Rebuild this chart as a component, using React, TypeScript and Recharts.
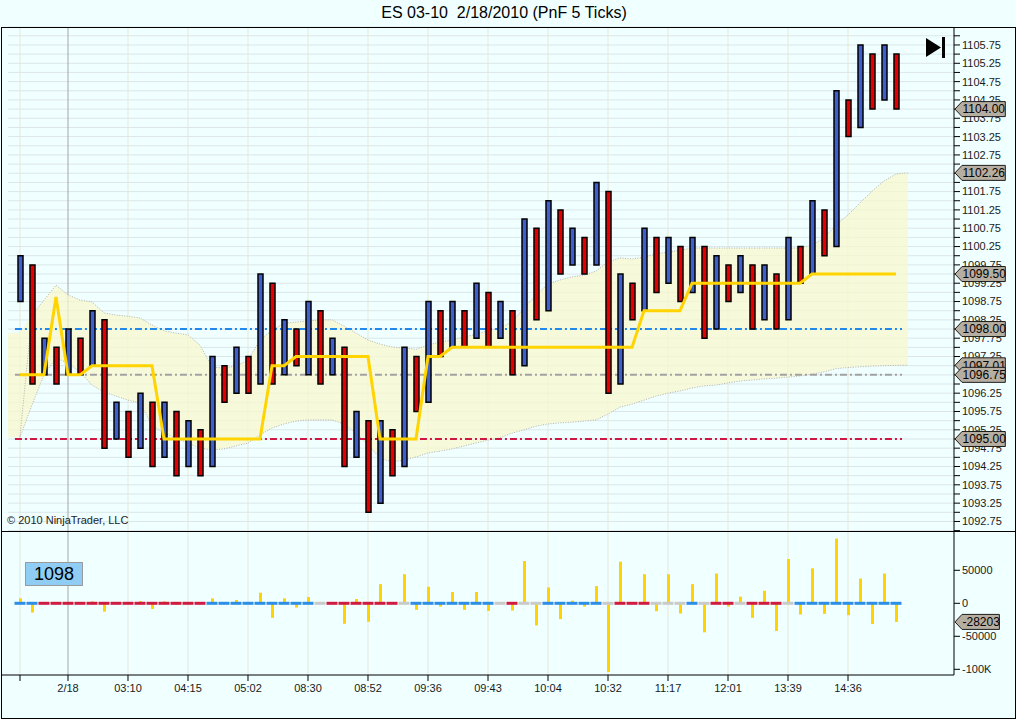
import React from "react"
import {
  ComposedChart,
  Bar,
  Line,
  Area,
  Scatter,
  XAxis,
  YAxis,
  CartesianGrid,
  ReferenceLine,
  Cell,
} from "recharts"

const FONT = '"Liberation Sans", Arial, sans-serif'

// PnF columns, left to right: top and bottom of each column
const colHigh = [
  1100.0, 1099.75, 1097.75, 1097.5, 1098.0, 1097.75, 1098.5, 1098.25, 1096.0, 1095.75,
  1096.25, 1096.0, 1096.0, 1095.75, 1095.5, 1095.25, 1097.25, 1097.0, 1097.5, 1097.25,
  1099.5, 1099.25, 1098.25, 1098.0, 1098.75, 1098.5, 1097.75, 1097.5, 1095.75, 1095.5,
  1095.5, 1095.25, 1097.5, 1097.25, 1098.75, 1098.5, 1098.75, 1098.5, 1099.25, 1099.0,
  1098.75, 1098.5, 1101.0, 1100.75, 1101.5, 1101.25, 1100.75, 1100.5, 1102.0, 1101.75,
  1099.5, 1099.25, 1100.75, 1100.5, 1100.5, 1100.25, 1100.5, 1100.25, 1100.0, 1099.75,
  1100.0, 1099.75, 1099.75, 1099.5, 1100.5, 1100.25, 1101.5, 1101.25, 1104.5, 1104.25,
  1105.75, 1105.5, 1105.75, 1105.5,
]
const colLow = [
  1098.75, 1096.5, 1096.75, 1096.5, 1096.75, 1096.75, 1097.0, 1094.75, 1095.0, 1094.5,
  1094.75, 1094.25, 1094.5, 1094.0, 1094.25, 1094.0, 1094.25, 1096.0, 1096.25, 1096.25,
  1096.5, 1096.5, 1096.75, 1097.0, 1096.75, 1096.5, 1096.75, 1094.25, 1094.5, 1093.0,
  1093.25, 1094.0, 1094.25, 1095.75, 1096.0, 1097.25, 1097.5, 1097.5, 1097.75, 1097.5,
  1097.75, 1096.75, 1097.0, 1098.25, 1098.5, 1099.5, 1099.75, 1099.5, 1099.75, 1096.25,
  1096.5, 1098.25, 1098.5, 1099.0, 1099.25, 1098.75, 1099.0, 1097.75, 1098.0, 1098.75,
  1099.0, 1098.0, 1098.25, 1098.0, 1098.25, 1099.25, 1099.5, 1100.0, 1100.25, 1103.25,
  1103.5, 1104.0, 1104.25, 1104.0,
]
// columns alternate, the first one is an up column; the last close is the low of the last (down) column
const lastClose = colLow[colLow.length - 1]

// yellow step line
const trend = [
  1096.75, 1096.75, 1096.75, 1098.875, 1096.75, 1096.75, 1097.0, 1097.0, 1097.0, 1097.0,
  1097.0, 1097.0, 1095.0, 1095.0, 1095.0, 1095.0, 1095.0, 1095.0, 1095.0, 1095.0,
  1095.0, 1097.0, 1097.0, 1097.25, 1097.25, 1097.25, 1097.25, 1097.25, 1097.25, 1097.25,
  1095.0, 1095.0, 1095.0, 1095.0, 1097.25, 1097.25, 1097.5, 1097.5, 1097.5, 1097.5,
  1097.5, 1097.5, 1097.5, 1097.5, 1097.5, 1097.5, 1097.5, 1097.5, 1097.5, 1097.5,
  1097.5, 1097.5, 1098.5, 1098.5, 1098.5, 1098.5, 1099.25, 1099.25, 1099.25, 1099.25,
  1099.25, 1099.25, 1099.25, 1099.25, 1099.25, 1099.25, 1099.5, 1099.5, 1099.5, 1099.5,
  1099.5, 1099.5, 1099.5, 1099.5,
]

// envelope (one value more than the columns, it runs one slot past the last column)
const bandUpper = [
  1095.08, 1098.38, 1098.79, 1099.2, 1098.93, 1098.79, 1098.74, 1098.44, 1098.38, 1098.35,
  1098.3, 1098.11, 1097.95, 1097.89, 1097.84, 1097.56, 1096.96, 1096.94, 1096.99, 1097.15,
  1097.7, 1097.97, 1098.16, 1098.19, 1098.22, 1098.25, 1098.25, 1098.08, 1097.89, 1097.7,
  1097.59, 1097.51, 1097.48, 1097.45, 1097.56, 1097.65, 1097.7, 1097.78, 1097.86, 1097.95,
  1098.03, 1098.19, 1098.57, 1098.93, 1099.23, 1099.34, 1099.42, 1099.47, 1099.58, 1099.83,
  1099.94, 1099.91, 1099.96, 1100.05, 1100.1, 1100.15, 1100.21, 1100.21, 1100.21, 1100.21,
  1100.21, 1100.21, 1100.21, 1100.21, 1100.21, 1100.21, 1100.29, 1100.48, 1100.84, 1101.11,
  1101.44, 1101.76, 1102.04, 1102.23, 1102.26,
]
const bandLower = [
  1095.05, 1095.93, 1096.75, 1097.21, 1097.07, 1096.83, 1096.47, 1096.28, 1096.17, 1096.06,
  1095.98, 1095.38, 1095.16, 1095.03, 1094.89, 1094.75, 1094.7, 1094.73, 1094.81, 1094.89,
  1095.11, 1095.3, 1095.41, 1095.49, 1095.52, 1095.52, 1095.52, 1095.41, 1095.16, 1094.84,
  1094.48, 1094.37, 1094.43, 1094.51, 1094.62, 1094.67, 1094.73, 1094.81, 1094.89, 1094.97,
  1095.03, 1095.16, 1095.25, 1095.35, 1095.41, 1095.44, 1095.46, 1095.49, 1095.52, 1095.68,
  1095.87, 1095.95, 1096.06, 1096.17, 1096.25, 1096.31, 1096.39, 1096.45, 1096.47, 1096.53,
  1096.58, 1096.61, 1096.64, 1096.66, 1096.69, 1096.72, 1096.77, 1096.83, 1096.92, 1096.95,
  1096.97, 1096.99, 1097.0, 1097.01, 1097.01,
]
// the shaded area also starts one slot before the first column
const bandLead: [number, number] = [1095.05, 1097.9]

// horizontal levels
const levels = [
  { price: 1098.0, color: "#2189ec" },
  { price: 1096.75, color: "#a2a2a2" },
  { price: 1095.0, color: "#cf1744" },
]

// lower panel
const delta = [
  7500, -14000, 0, 0, 1000, 0, 3000, -12600, 0, 1000,
  3500, -8600, 3000, -2500, 0, 0, 7500, 0, 5000, 0,
  16000, -22000, 7500, -6500, 9500, 0, 0, -31000, 6500, -28000,
  29000, 0, 44000, -10000, 25000, -5000, 17000, -10000, 17000, -11600,
  2000, -11000, 64000, -33500, 24000, -24000, 4000, -5000, 26000, -104000,
  63000, 0, 44000, -12000, 44000, -15500, 29000, -44000, 45000, -5000,
  10000, -22000, 19000, -42000, 67000, -17000, 53000, -16000, 98000, -18000,
  37500, -31500, 45000, -28203,
]
// B = blue, R = red, G = gray segment on the zero line
const segState =
  "BB" + "RRRRRRRRRRRRRR" + "BBBBBBBBB" + "G" + "RRRRRR" + "G" + "BBBBBBB" + "G" + "R" + "GG" +
  "BBBBB" + "G" + "RRR" + "GGG" + "B" + "G" + "RR" + "G" + "RRR" + "G" + "BBBBBBBBB"

// time axis
const tickBars = [0, 4, 9, 14, 19, 24, 29, 34, 39, 44, 49, 54, 59, 64, 69]
const tickLabels = ["", "2/18", "03:10", "04:15", "05:02", "08:30", "08:52", "09:36", "09:43", "10:04", "10:32", "11:17", "12:01", "13:39", "14:36"]
const sessionBreak = 4

const flowTicks = [-100000, -50000, 0, 50000]

const segColors: Record<string, string> = { B: "#2d8ee8", R: "#d01b41", G: "#cacaca" }

const priceTicks: number[] = []
for (let p = 1092.5; p <= 1106.0; p += 0.25) priceTicks.push(p)

const N = colHigh.length

const priceRows: any[] = [{ i: -1, fill: bandLead }]
for (let k = 0; k <= N; k++) {
  priceRows.push({
    i: k,
    range: k < N ? [colLow[k], colHigh[k]] : undefined,
    up: k % 2 === 0,
    trend: k < N ? trend[k] : undefined,
    upper: bandUpper[k],
    lower: bandLower[k],
    fill: k === 0 ? bandLead : [bandLower[k], bandUpper[k]],
  })
}

const flowRows = delta.map((d, k) => ({ i: k, delta: d, zero: 0, seg: segState[k] }))

const tags = [
  lastClose,
  bandUpper[bandUpper.length - 1],
  trend[trend.length - 1],
  levels[0].price,
  bandLower[bandLower.length - 1],
  levels[1].price,
  levels[2].price,
]

function PriceTag(props: any) {
  const vb = props.viewBox
  if (!vb) return null
  const x = vb.x + vb.width
  const y = vb.y
  const text: string = props.text
  const w = 10 + text.length * 5.9
  return (
    <g>
      <path
        d={`M${x + 1},${y} L${x + 8},${y - 7.5} L${x + w},${y - 7.5} L${x + w},${y + 7.5} L${x + 8},${y + 7.5} Z`}
        fill="#b6aea1"
        stroke="#1c1c1c"
        strokeWidth={1}
      />
      <text x={x + 8.5} y={y + 4.2} fontSize={12} fontFamily={FONT} fill="#000">
        {text}
      </text>
    </g>
  )
}

function ZeroSegment(props: any) {
  const { cx, cy, payload } = props
  if (cx == null || cy == null) return null
  return <rect x={cx - 5.5} y={cy - 1.5} width={11} height={3} fill={segColors[payload.seg]} />
}

const axisTick = { fontSize: 11, fill: "#1a1a1a", fontFamily: FONT }

export default function App() {
  return (
    <div
      style={{
        position: "absolute",
        left: 0,
        top: 0,
        width: 1016,
        height: 719,
        background: "#f0ffff",
        fontFamily: FONT,
        overflow: "hidden",
      }}
    >
      <div
        style={{
          position: "absolute",
          left: 0,
          top: 4,
          width: 1008,
          textAlign: "center",
          fontSize: 16,
          lineHeight: "18px",
          whiteSpace: "pre",
          color: "#000",
        }}
      >
        {"ES 03-10  2/18/2010 (PnF 5 Ticks)"}
      </div>

      <div style={{ position: "absolute", left: 0, top: 0 }}>
        <ComposedChart width={1016} height={531} data={priceRows} margin={{ top: 27, right: 0, bottom: 0, left: 8 }}>
          <CartesianGrid vertical={false} stroke="#dce6e8" strokeDasharray="" />
          <XAxis dataKey="i" type="number" domain={[-1, 77.8333]} allowDataOverflow hide />
          <YAxis
            orientation="right"
            width={62}
            domain={[1092.49, 1106.24]}
            allowDataOverflow
            ticks={priceTicks}
            interval={0}
            tickFormatter={(v: number) => (Math.round(v * 4) % 2 === 1 ? v.toFixed(2) : "")}
            tickSize={6}
            tickMargin={2}
            tick={axisTick}
            stroke="#000"
          />
          {tickBars.map((b) => (
            <ReferenceLine
              key={"v" + b}
              x={b}
              stroke={b === sessionBreak ? "#a6a6a6" : "#e5e7d8"}
              strokeWidth={1}
              zIndex={-50}
            />
          ))}
          <Area
            dataKey="fill"
            type="linear"
            stroke="none"
            fill="#f8f8cc"
            fillOpacity={0.72}
            isAnimationActive={false}
            zIndex={100}
          />
          <Line dataKey="upper" type="linear" stroke="#b2b2b2" strokeWidth={1} strokeDasharray="1 1.5" dot={false} activeDot={false} isAnimationActive={false} zIndex={110} />
          <Line dataKey="lower" type="linear" stroke="#b2b2b2" strokeWidth={1} strokeDasharray="1 1.5" dot={false} activeDot={false} isAnimationActive={false} zIndex={110} />
          {levels.map((l) => (
            <ReferenceLine
              key={"l" + l.price}
              segment={[
                { x: -0.42, y: l.price },
                { x: N - 0.5, y: l.price },
              ]}
              stroke={l.color}
              strokeWidth={2}
              strokeDasharray="7 3 2 3"
              zIndex={200}
            />
          ))}
          <Bar dataKey="range" barSize={5} stroke="#000" strokeWidth={1.5} isAnimationActive={false} zIndex={300}>
            {priceRows.map((r) => (
              <Cell key={"c" + r.i} fill={r.up ? "#3e5fcc" : "#e40000"} />
            ))}
          </Bar>
          <Line dataKey="trend" type="linear" stroke="#ffd400" strokeWidth={3} dot={false} activeDot={false} isAnimationActive={false} zIndex={400} />
          {tags.map((t, k) => (
            <ReferenceLine
              key={"t" + k}
              y={t}
              stroke="none"
              zIndex={2000}
              label={<PriceTag text={t.toFixed(2)} />}
            />
          ))}
        </ComposedChart>
      </div>

      <div style={{ position: "absolute", left: 0, top: 531 }}>
        <ComposedChart width={1016} height={187} data={flowRows} margin={{ top: 0, right: 0, bottom: 0, left: 1 }}>
          <XAxis
            dataKey="i"
            type="number"
            domain={[-1.5833, 77.8333]}
            allowDataOverflow
            ticks={tickBars}
            interval={0}
            tickFormatter={(v: number) => tickLabels[tickBars.indexOf(v)] ?? ""}
            height={43}
            tickSize={6}
            tickMargin={3}
            tick={axisTick}
            stroke="#000"
          />
          <YAxis
            orientation="right"
            width={62}
            domain={[-108600, 109500]}
            allowDataOverflow
            ticks={flowTicks}
            interval={0}
            tickFormatter={(v: number) => (v === -100000 ? "-100K" : String(v))}
            tickSize={6}
            tickMargin={2}
            tick={axisTick}
            stroke="#000"
          />
          {tickBars.map((b) => (
            <ReferenceLine
              key={"fv" + b}
              x={b}
              stroke={b === sessionBreak ? "#a6a6a6" : "#e5e7d8"}
              strokeWidth={1}
              zIndex={-50}
            />
          ))}
          <Bar dataKey="delta" barSize={3} fill="#ffd200" isAnimationActive={false} zIndex={300} />
          <Scatter dataKey="zero" shape={<ZeroSegment />} isAnimationActive={false} zIndex={600} />
          <ReferenceLine
            y={delta[delta.length - 1]}
            stroke="none"
            zIndex={2000}
            label={<PriceTag text={String(delta[delta.length - 1])} />}
          />
        </ComposedChart>
      </div>

      <div style={{ position: "absolute", left: 7, top: 514, fontSize: 11, color: "#222", whiteSpace: "pre" }}>
        {"© 2010 NinjaTrader, LLC"}
      </div>

      <div
        style={{
          position: "absolute",
          left: 25,
          top: 562,
          width: 58,
          height: 24,
          boxSizing: "border-box",
          background: "#8fcdf5",
          border: "1px solid #9a9a9a",
          fontSize: 18,
          lineHeight: "22px",
          textAlign: "center",
          color: "#000",
        }}
      >
        1098
      </div>

      <svg style={{ position: "absolute", left: 924, top: 36 }} width={24} height={24}>
        <polygon points="2,2 17,11.5 2,21" fill="#000" />
        <rect x={18} y={1} width={3} height={21} fill="#000" />
      </svg>

      <div
        style={{
          position: "absolute",
          left: 1,
          top: 27,
          width: 1015,
          height: 692,
          boxSizing: "border-box",
          border: "1px solid #000",
          pointerEvents: "none",
        }}
      />
      <div style={{ position: "absolute", left: 1, top: 531, width: 1015, height: 1, background: "#000" }} />
    </div>
  )
}
